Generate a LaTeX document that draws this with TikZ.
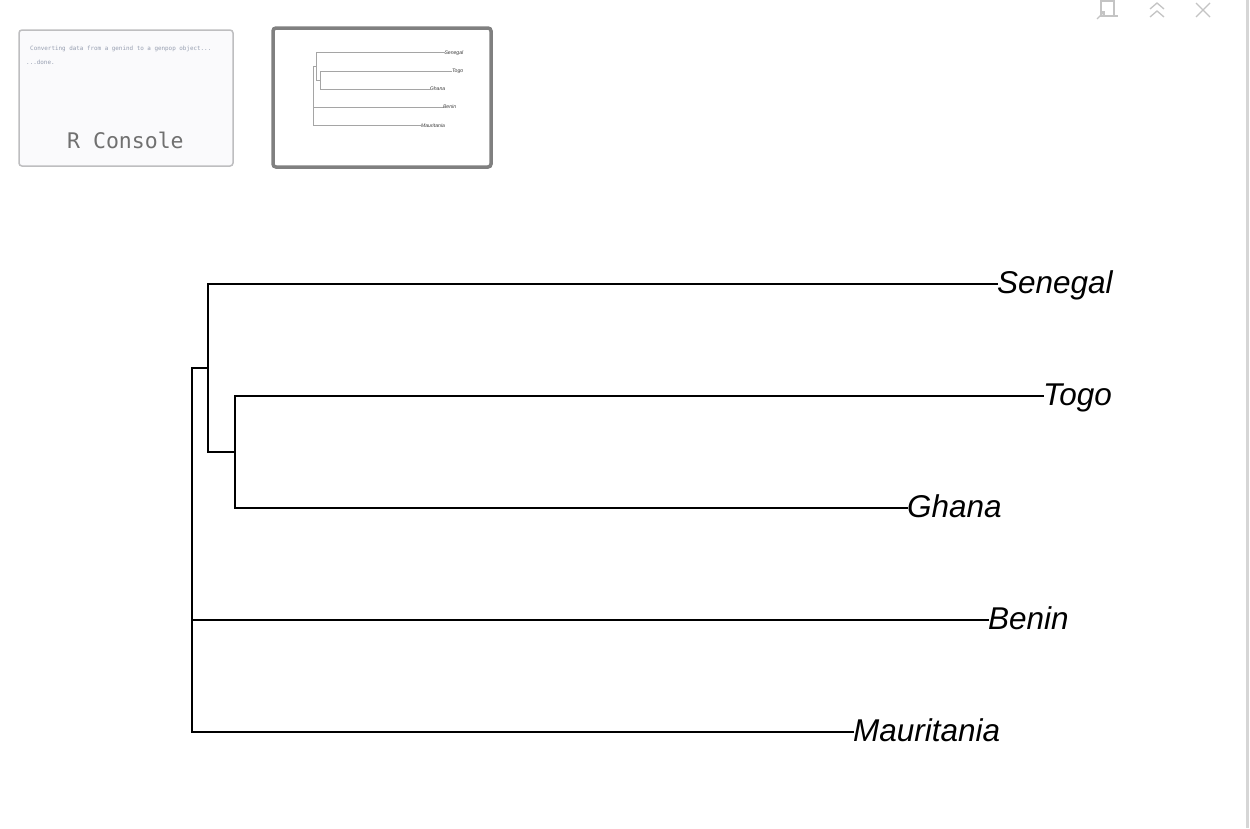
\documentclass[tikz,border=0pt]{standalone}
\usepackage{fontspec}
\setmainfont{Liberation Sans}
\newfontfamily\consolefont{DejaVu Sans Mono}
\usetikzlibrary{positioning}
\definecolor{thumbframe}{RGB}{128,128,128}
\definecolor{consoleframe}{RGB}{190,190,192}
\definecolor{consolefill}{RGB}{250,250,252}
\definecolor{consoletext}{RGB}{150,158,176}
\definecolor{consoletitle}{RGB}{112,112,112}
\definecolor{minibranch}{RGB}{165,165,165}
\definecolor{minilabel}{RGB}{60,60,60}
\definecolor{iconcolor}{RGB}{196,196,196}
\definecolor{edgecolor}{RGB}{214,214,214}

\tikzset{
  leaf/.style={anchor=west, inner sep=0pt, outer sep=0pt,
    font=\fontsize{31.5}{36}\selectfont\itshape,
    text height=24pt, text depth=5.4pt},
  branch/.style={line width=1.6pt, line cap=rect}
}

% the tree, drawn once big and once in the thumbnail
\newcommand{\dendro}{%
  \coordinate (root) at (192,550);
  \coordinate (n1) at (208,368);
  \coordinate (n2) at (235,452);
  \node[leaf] (senegal) at (997,284) {Senegal};
  \node[leaf] (togo) at (1043,396) {Togo};
  \node[leaf] (ghana) at (907,508) {Ghana};
  \node[leaf] (benin) at (988,620) {Benin};
  \node[leaf] (mauritania) at (853,732) {Mauritania};
  \draw[branch] (root) |- (n1);
  \draw[branch] (root) |- (benin);
  \draw[branch] (root) |- (mauritania);
  \draw[branch] (n1) |- (senegal);
  \draw[branch] (n1) |- (n2);
  \draw[branch] (n2) |- (togo);
  \draw[branch] (n2) |- (ghana);
}

\begin{document}
\begin{tikzpicture}[x=1pt, y=-1pt]
\useasboundingbox (0,0) rectangle (1250,828);
\fill[white] (0,0) rectangle (1250,828);
\fill[edgecolor] (1246,0) rectangle (1249,828);

% console thumbnail
\draw[consoleframe, fill=consolefill, line width=1.5pt, rounded corners=3pt] (19,30) rectangle (233,166);
\node[anchor=base west, inner sep=0pt, text=consoletext, font=\consolefont\fontsize{5.9}{7}\selectfont] (convmsg) at (30,50.5) {Converting data from a genind to a genpop object...};
\node[anchor=base west, inner sep=0pt, text=consoletext, font=\consolefont\fontsize{5.9}{7}\selectfont] (donemsg) at (26,64.5) {...done.};
\node[anchor=base west, inner sep=0pt, text=consoletitle, font=\consolefont\fontsize{21.5}{24}\selectfont] (rconsole) at (67,148) {R Console};

% plot thumbnail
\draw[thumbframe, fill=white, line width=3.5pt, rounded corners=3pt] (273,28) rectangle (491,167);
\begin{scope}[name prefix=mini-, shift={(282,6.4)}, scale=0.163, transform shape,
  branch/.style={line width=0.8pt, minibranch}, leaf/.append style={text=minilabel}]
\dendro
\end{scope}

% main tree
\begin{scope}[name prefix=big-]
\dendro
\end{scope}

% window icons
\begin{scope}[iconcolor, line width=1.3pt]
\draw (1101,1) rectangle (1114,16);
\draw (1109,16) -- (1118,16);
\draw (1097,19) -- (1104,12);
\draw (1100,12) -- (1104,12) -- (1104,16);
\draw (1150,9) -- (1157,3) -- (1164,9);
\draw (1150,17) -- (1157,11) -- (1164,17);
\draw (1196,3) -- (1210,17);
\draw (1196,17) -- (1210,3);
\end{scope}
\end{tikzpicture}
\end{document}
